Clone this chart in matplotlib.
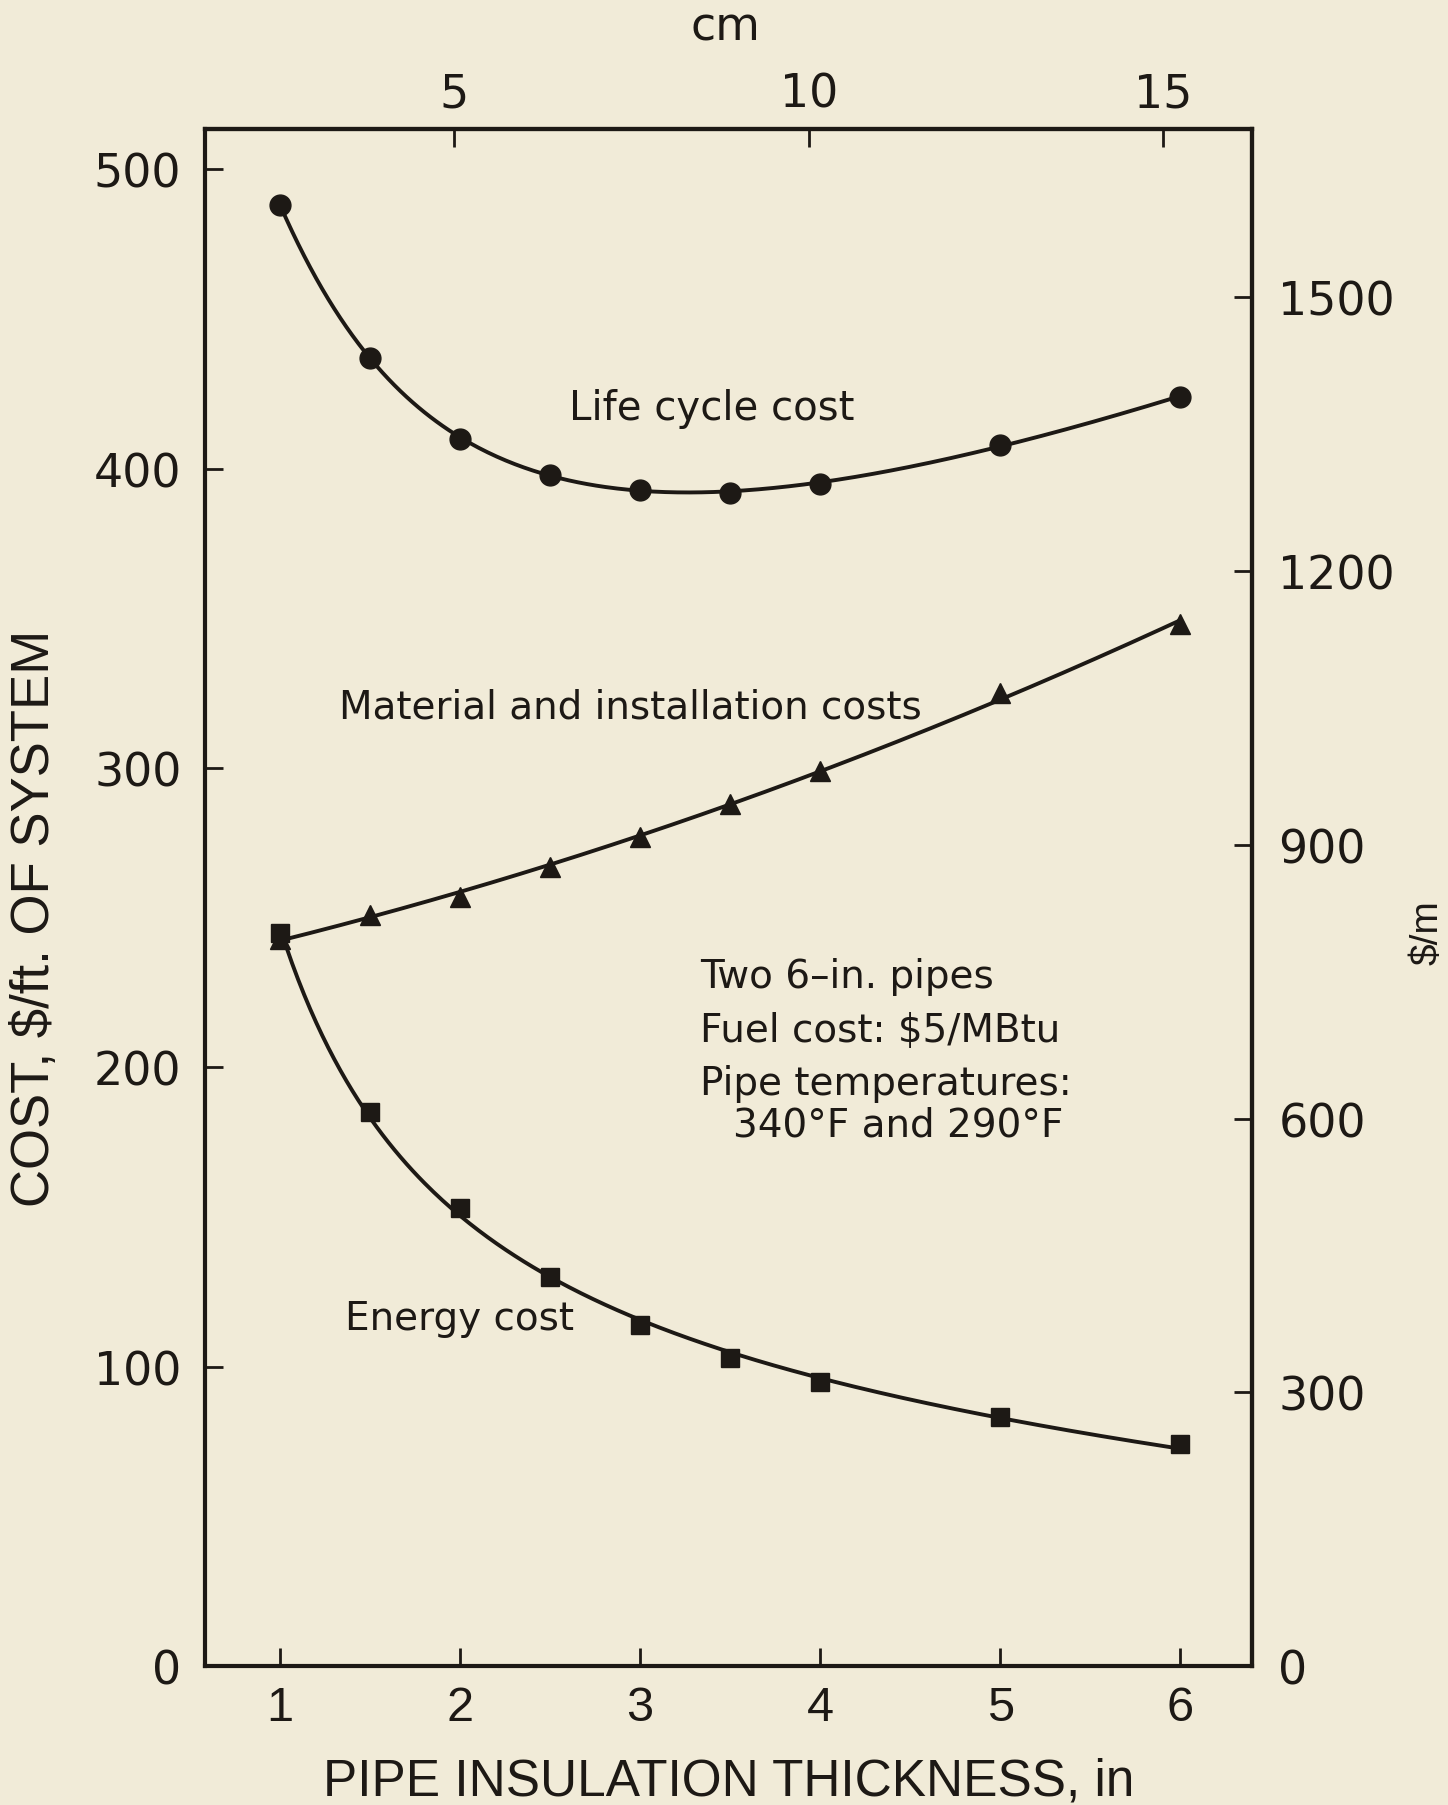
import matplotlib
matplotlib.use("Agg")
import matplotlib.pyplot as plt
import numpy as np

# insulation thickness, in
thick = [1, 1.5, 2, 2.5, 3, 3.5, 4, 5, 6]
# cost, $/ft of system
life_cost = [488, 437, 410, 398, 393, 392, 395, 408, 424]
material_cost = [243, 251, 257, 267, 277, 288, 299, 325, 348]
energy_cost = [245, 185, 153, 130, 114, 103, 95, 83, 74]

x_ticks = [1, 2, 3, 4, 5, 6]
y_ticks = [0, 100, 200, 300, 400, 500]
cm_ticks = [5, 10, 15]
m_ticks = [0, 300, 600, 900, 1200, 1500]

note_lines = ["Two 6\u2013in. pipes", "Fuel cost: $5/MBtu", "Pipe temperatures:"]
note_last = "340\u00b0F and 290\u00b0F"

BG = "#f1ebd8"
INK = "#1d1915"
WIDE = ['DejaVu Sans']

plt.rcParams['font.family'] = ['Liberation Sans', 'DejaVu Sans']

fig = plt.figure(figsize=(14.48, 18.06), dpi=100, facecolor=BG)
ax = fig.add_axes([0.1416, 0.0770, 0.7231, 0.8511], facecolor=BG)


def smooth(x, y, basis):
    # least squares trend line through the plotted points
    x = np.asarray(x, float)
    A = np.column_stack([f(x) for f in basis])
    coef, *_ = np.linalg.lstsq(A, np.asarray(y, float), rcond=None)
    xs = np.linspace(x.min(), x.max(), 300)
    return xs, np.column_stack([f(xs) for f in basis]) @ coef


inv_basis = [lambda t: np.ones_like(t), lambda t: 1 / t, lambda t: 1 / t**2, lambda t: t]
poly_basis = [lambda t: np.ones_like(t), lambda t: t, lambda t: t**2]
en_basis = [lambda t: np.ones_like(t), lambda t: 1 / t, lambda t: t]

for y, marker, ms, basis in [(life_cost, 'o', 15, inv_basis),
                             (material_cost, '^', 15, poly_basis),
                             (energy_cost, 's', 13, en_basis)]:
    xs, ys = smooth(thick, y, basis)
    ax.plot(xs, ys, color=INK, lw=2.8, solid_capstyle='round')
    ax.plot(thick, y, ls='none', marker=marker, ms=ms, color=INK)

ax.set_xlim(0.583, 6.40)
ax.set_ylim(0, 513.5)
ax.set_xticks(x_ticks)
ax.set_yticks(y_ticks)
ax.tick_params(direction='in', length=13, width=2, colors=INK)
ax.tick_params(axis='x', labelsize=35, pad=14)
ax.tick_params(axis='y', labelsize=33, pad=17)
for lab in ax.get_yticklabels():
    lab.set_family(WIDE)
for s in ax.spines.values():
    s.set_linewidth(3)
    s.set_color(INK)

ax.set_xlabel("PIPE INSULATION THICKNESS, in", fontsize=37, color=INK, va='center')
ax.xaxis.set_label_coords(0.5, -0.0748)
ax.set_ylabel("COST, $/ft. OF SYSTEM", fontsize=38, color=INK, va='center', ha='center')
ax.yaxis.set_label_coords(-0.162, 0.487)

top = ax.secondary_xaxis('top', functions=(lambda v: v * 2.54, lambda v: v / 2.54))
top.set_xticks(cm_ticks)
top.tick_params(direction='in', length=13, width=2, labelsize=33, colors=INK, pad=9)
for lab in top.get_xticklabels():
    lab.set_family(WIDE)

right = ax.secondary_yaxis('right', functions=(lambda v: v * 3.2808, lambda v: v / 3.2808))
right.set_yticks(m_ticks)
right.tick_params(direction='in', length=13, width=2, labelsize=33, colors=INK, pad=19)
for lab in right.get_yticklabels():
    lab.set_family(WIDE)
for sa in (top, right):
    for s in sa.spines.values():
        s.set_linewidth(3)
        s.set_color(INK)

ax.text(0.497, 1.066, "cm", transform=ax.transAxes, fontsize=33, family=WIDE,
        color=INK, ha='center', va='center')
ax.text(1.168, 0.478, "$/m", transform=ax.transAxes, fontsize=28, color=INK,
        ha='center', va='center', rotation=90)

ax.text(2.605, 416.5, "Life cycle cost", fontsize=29, family=WIDE, color=INK, ha='left', va='baseline')
ax.text(1.327, 317, "Material and installation costs", fontsize=28, family=WIDE, color=INK,
        ha='left', va='baseline')
ax.text(1.358, 112.4, "Energy cost", fontsize=28, family=WIDE, color=INK, ha='left', va='baseline')
for line, yy in zip(note_lines, [226.9, 208.8, 191.1]):
    ax.text(3.333, yy, line, fontsize=28, family=WIDE, color=INK, ha='left', va='baseline')
ax.text(3.516, 177.1, note_last, fontsize=28, family=WIDE, color=INK, ha='left', va='baseline')

fig.savefig("out.png", dpi=100, facecolor=BG)
